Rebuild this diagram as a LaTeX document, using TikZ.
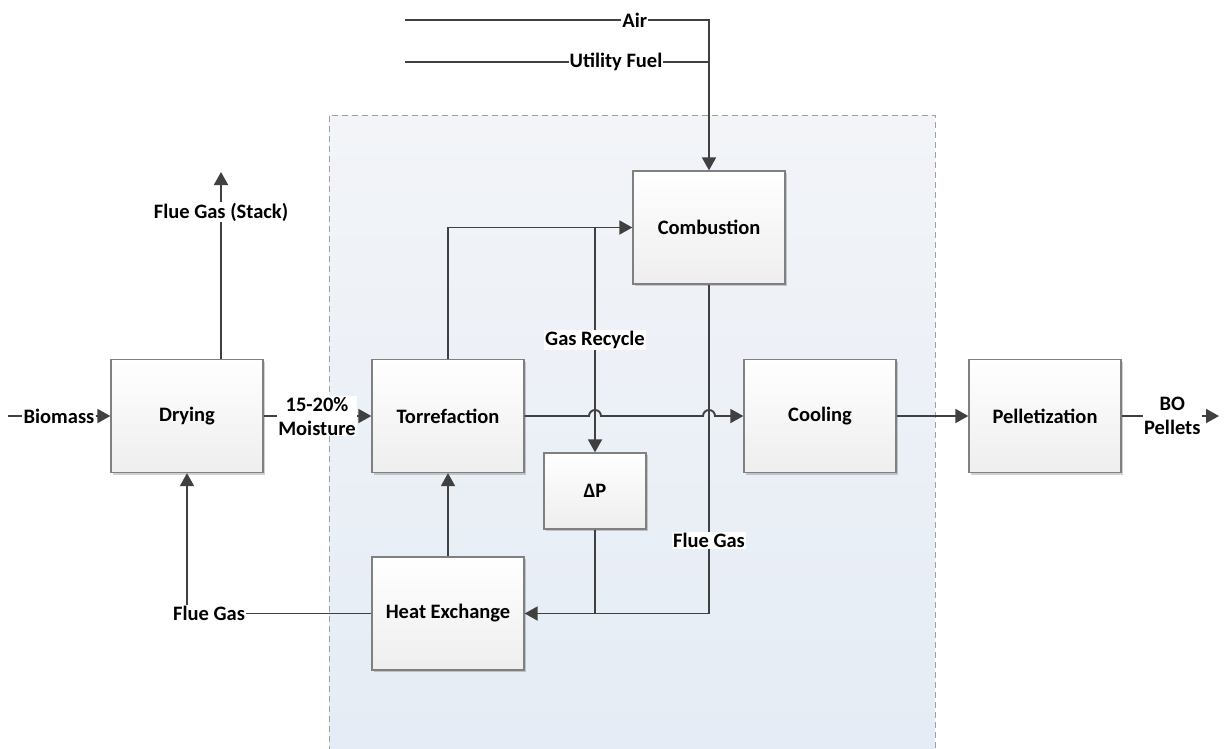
\documentclass[tikz,border=0pt]{standalone}
\usepackage{fontspec}
\setmainfont{Carlito}
\usetikzlibrary{arrows.meta,shadows}
\definecolor{lncol}{RGB}{64,64,64}
\definecolor{boxline}{RGB}{128,128,128}
\definecolor{boxbot}{RGB}{238,238,238}
\definecolor{regtop}{RGB}{242,244,248}
\definecolor{regbot}{RGB}{229,236,245}
\definecolor{regline}{RGB}{160,160,160}
\tikzset{
  box/.style={draw=boxline, line width=1.3pt, top color=white, bottom color=boxbot,
    minimum width=152pt, minimum height=113pt, inner sep=0pt,
    drop shadow={shadow xshift=2pt, shadow yshift=-2pt, opacity=0.18, fill=black}},
  ln/.style={draw=lncol, line width=1.9pt},
  arr/.style={ln, -{Triangle[length=13pt,width=14pt]}},
  lbl/.style={fill=white, inner sep=1pt, text=black},
  every node/.style={font=\fontsize{20.5}{24}\selectfont\bfseries}
}
\begin{document}
\begin{tikzpicture}[x=1pt,y=-1pt]
\useasboundingbox (0,0) rectangle (1225,748);
% region
\path[top color=regtop, bottom color=regbot] (329,115) rectangle (935,752);
\draw[regline, dashed, line width=1pt, dash pattern=on 6pt off 4pt] (329,752) -- (329,115) -- (935,115) -- (935,752);

% boxes
\node[box] (dry) at (187,416) {Drying};
\node[box] (tor) at (448,416) {Torrefaction};
\node[box] (comb) at (709,227.5) {Combustion};
\node[box] (cool) at (820,416) {Cooling};
\node[box] (pel) at (1045,416) {Pelletization};
\node[box, minimum width=102pt, minimum height=76pt] (dp) at (595,491) {ΔP};
\node[box] (hx) at (448,613.5) {Heat Exchange};

% free ends
\coordinate (bio0) at (8,416);
\coordinate (stack) at (221,172);
\coordinate (air0) at (405,20);
\coordinate (uf0) at (405,62);
\coordinate (out) at (1219,416);
\coordinate (j1) at (dp.north |- comb.west);

% Biomass
\node[lbl] (lbio) at (59,416) {Biomass};
\draw[ln] (bio0) -- (lbio);
\draw[arr] (lbio) -- (dry);

% Drying -> Torrefaction
\node[lbl, align=center] (lmoist) at (317,416) {15-20\%\\Moisture};
\draw[ln] (dry) -- (lmoist);
\draw[arr] (lmoist) -- (tor);

% stack
\draw[arr] (stack |- dry.north) -- node[lbl, pos=0.786] {Flue Gas (Stack)} (stack);

% flue gas to drying
\draw[arr] (hx.west) -| node[lbl, pos=0.44] {Flue Gas} (dry.south);

% torrefaction -> combustion
\draw[arr] (tor.north) |- (comb.west);

% gas recycle
\draw[arr] (j1) -- node[lbl] {Gas Recycle} (dp.north);

% torrefaction -> cooling with hops
\draw[arr] (tor.east) -- (589,416) arc[start angle=180, end angle=360, radius=6]
  -- (703,416) arc[start angle=180, end angle=360, radius=6] -- (cool.west);

% combustion flue gas -> heat exchange
\draw[arr] (comb.south) |- node[lbl, pos=0.389] {Flue Gas} (hx.east);
\draw[ln] (dp.south) -- (dp.south |- hx.east);

% heat exchange -> torrefaction
\draw[arr] (hx.north) -- (tor.south);

% air and utility fuel
\draw[arr] (air0) -| node[lbl, pos=0.378] {Air} (comb.north);
\draw[ln] (uf0) -- node[lbl, pos=0.694] {Utility Fuel} (uf0 -| comb.north);

% cooling -> pelletization -> out
\draw[arr] (cool) -- (pel);
\draw[arr] (pel.east) -- node[lbl, align=center, pos=0.52] {BO\\Pellets} (out);
\end{tikzpicture}
\end{document}
